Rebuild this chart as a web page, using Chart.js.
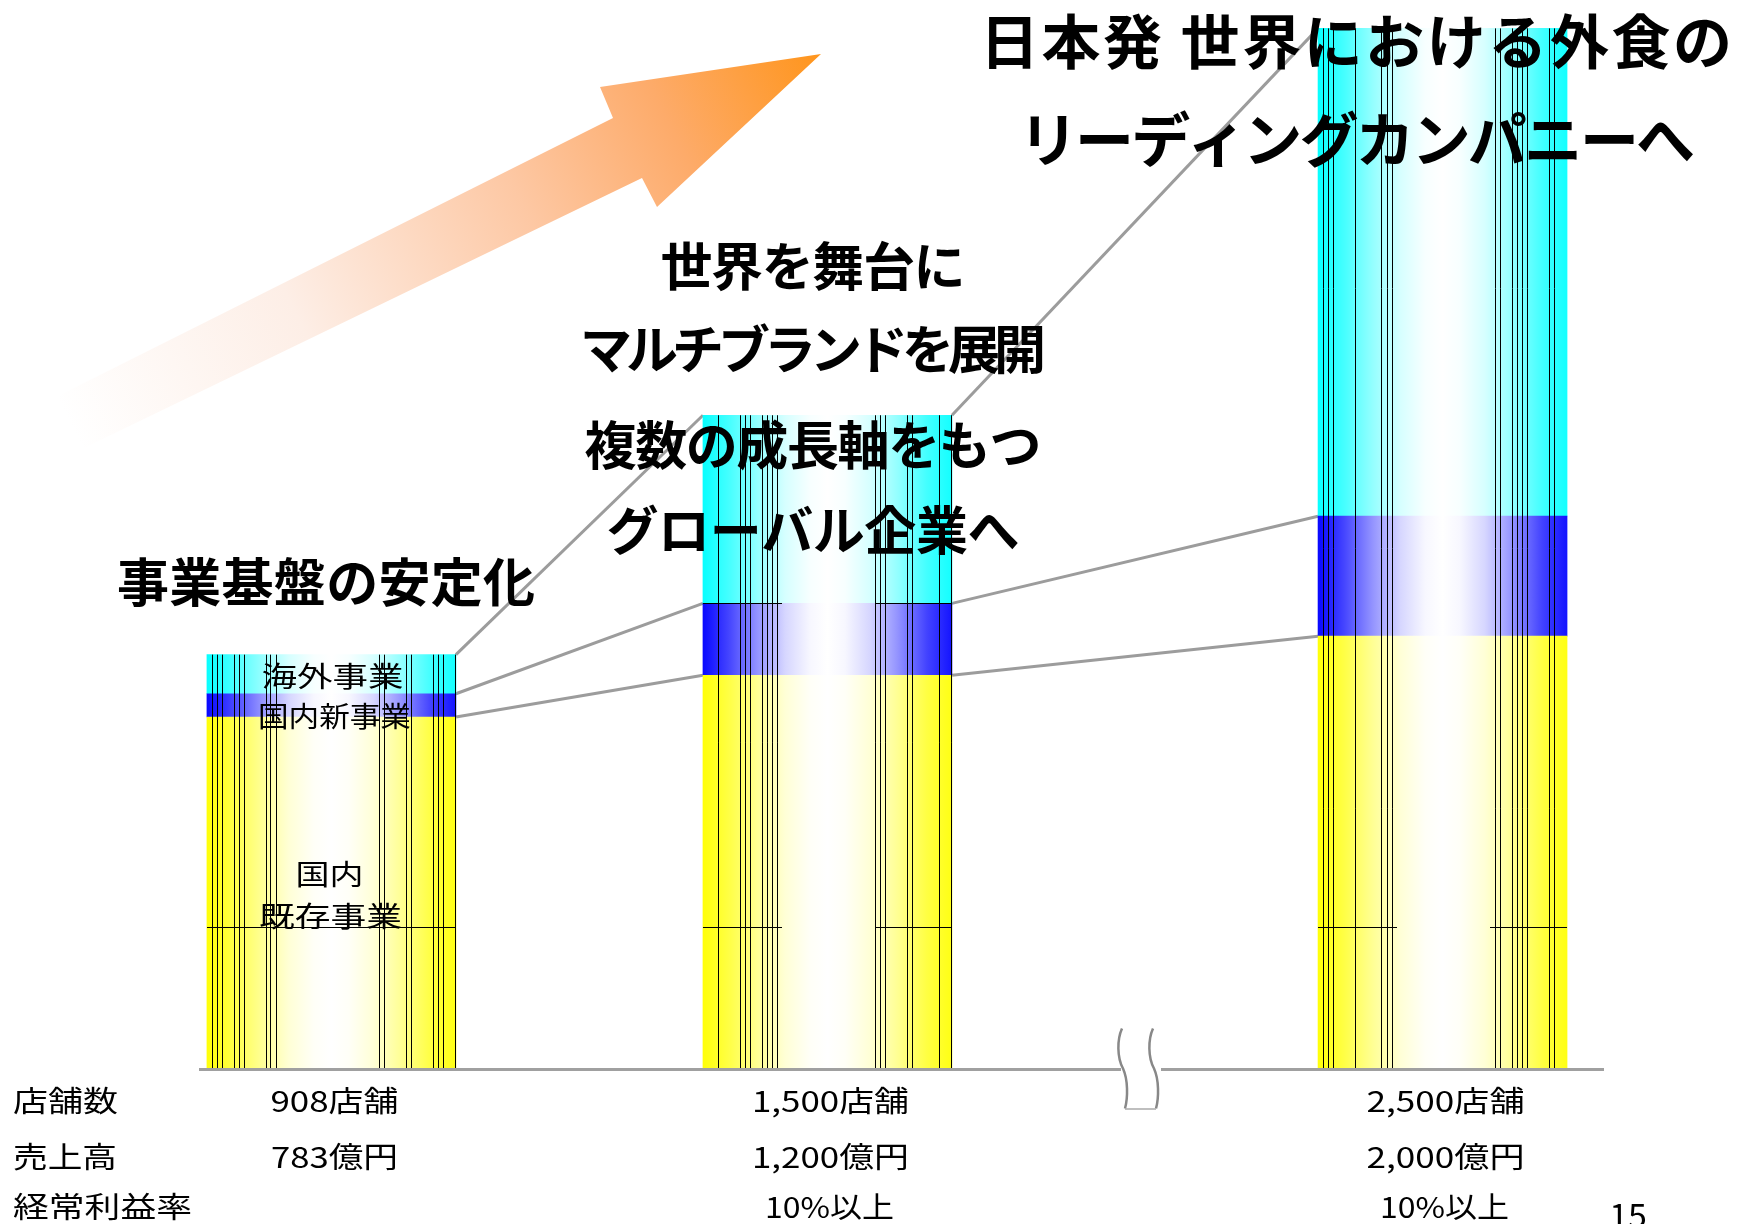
<!DOCTYPE html>
<html><head><meta charset="utf-8">
<script src="https://cdn.jsdelivr.net/npm/chart.js@4.4.1/dist/chart.umd.min.js"></script>
<style>html,body{margin:0;padding:0;background:#fff;overflow:hidden}canvas{display:block}</style>
</head><body>
<canvas id="c" width="1744" height="1224"></canvas>
<script>
// ---------- data ----------
const stageValues = [1, 2, 3.24];          // stage axis (broken between stage 2 and 3)
const seriesNames = ['国内既存事業', '国内新事業', '海外事業'];
const existingValues = [666, 745, 819];
const newDomesticValues = [44, 136, 227];
const overseasValues = [74, 356, 923];
const rowHeaders = ['店舗数', '売上高', '経常利益率'];
const storeLabels = ['908店舗', '1,500店舗', '2,500店舗'];
const salesLabels = ['783億円', '1,200億円', '2,000億円'];
const marginLabels = ['', '10%以上', '10%以上'];
const titleLines = ['日本発 世界における外食の', 'リーディングカンパニーへ'];
const stage2Lines = ['世界を舞台に', 'マルチブランドを展開', '複数の成長軸をもつ', 'グローバル企業へ'];
const stage1Line = '事業基盤の安定化';
const segmentLabels = ['海外事業', '国内新事業', '国内', '既存事業'];
const pageNumber = '15';

// ---------- styles ----------
const FONT = '"Noto Sans CJK JP", "Noto Sans", sans-serif';
const BAR_W = 249;
const colors = [[255, 255, 0], [0, 0, 255], [0, 255, 255]];
const fadeStops = [[0, 0.97], [0.1, 0.74], [0.22, 0.42], [0.33, 0.16], [0.43, 0.03], [0.5, 0], [0.57, 0.03], [0.67, 0.16], [0.78, 0.42], [0.9, 0.74], [1, 0.92]];
const hatchOffsets = [
  [5, 10, 15, 26.7, 31.7, 36.7, 59.3, 63.3, 68.7, 172.3, 176.7, 199, 203.7, 225.7, 230.7, 236],
  [14.5, 36.5, 41.5, 46.5, 58.5, 63.5, 68.5, 73.5, 171.5, 176.5, 181.5, 204, 209, 235.5],
  [5, 10, 15, 36.7, 63.3, 68.7, 73.7, 176.7, 182, 193.7, 198.7, 203.7, 208.7, 230.7, 235.7]
];
const rightBorder = [true, true, false];
const hairValue = 269;

function mix(c, t) {
  return `rgb(${Math.round(255 - (255 - c[0]) * t)},${Math.round(255 - (255 - c[1]) * t)},${Math.round(255 - (255 - c[2]) * t)})`;
}
function barFill(ci) {
  return (ctx) => {
    const ch = ctx.chart;
    if (!ch.chartArea || ctx.type !== 'data' || !ch.scales.x) return mix(colors[ci], 0.6);
    const cx = ch.scales.x.getPixelForValue(stageValues[ctx.dataIndex]);
    const g = ch.ctx.createLinearGradient(cx - BAR_W / 2, 0, cx + BAR_W / 2, 0);
    fadeStops.forEach(([p, t]) => g.addColorStop(p, mix(colors[ci], t)));
    return g;
  };
}

// letter-spaced text (big headings)
function fitText(ctx, s, cx, cy, size, weight, width, align) {
  ctx.save();
  ctx.font = `${weight} ${size}px ${FONT}`;
  ctx.letterSpacing = '0px';
  const n = Array.from(s).length;
  const w = ctx.measureText(s).width;
  const ls = (n > 1 && width) ? (width - w) / (n - 1) : 0;
  ctx.letterSpacing = ls + 'px';
  ctx.textBaseline = 'middle';
  ctx.textAlign = 'left';
  ctx.fillStyle = '#000';
  const tw = width || w;
  ctx.fillText(s, align === 'left' ? cx : cx - tw / 2, cy);
  ctx.restore();
}
// horizontally stretched text (small labels)
function wideText(ctx, s, cx, cy, size, width, align) {
  ctx.save();
  ctx.font = `normal ${size}px ${FONT}`;
  const w = ctx.measureText(s).width;
  const sx = width / w;
  ctx.textBaseline = 'middle';
  ctx.textAlign = 'left';
  ctx.fillStyle = '#000';
  ctx.translate(align === 'left' ? cx : cx - width / 2, cy);
  ctx.scale(sx, 1);
  ctx.fillText(s, 0, 0);
  ctx.restore();
}

function bars(chart) {
  const m = [0, 1, 2].map(d => chart.getDatasetMeta(d).data);
  return stageValues.map((_, i) => {
    const e0 = m[0][i], e1 = m[1][i], e2 = m[2][i];
    return { x: e0.x, left: e0.x - e0.width / 2, right: e0.x + e0.width / 2,
      base: e0.base, yTop: e0.y, bTop: e1.y, cTop: e2.y };
  });
}

const deco = {
  id: 'deco',
  beforeDatasetsDraw(chart) {
    const ctx = chart.ctx;
    // big gradient arrow
    ctx.save();
    const pts = [[821, 54], [600, 87], [613, 118], [50, 400], [84, 448], [642, 178], [657, 207]];
    const g = ctx.createLinearGradient(70, 424, 821, 54);
    g.addColorStop(0, 'rgba(255,255,255,1)');
    g.addColorStop(0.3, '#fdeee6');
    g.addColorStop(0.6, '#fdc8a4');
    g.addColorStop(0.8, '#fdab6a');
    g.addColorStop(1, '#ff951c');
    ctx.beginPath();
    pts.forEach((p, i) => i ? ctx.lineTo(p[0], p[1]) : ctx.moveTo(p[0], p[1]));
    ctx.closePath();
    ctx.fillStyle = g;
    ctx.fill();
    ctx.restore();
    // connector lines
    const b = bars(chart);
    ctx.save();
    ctx.strokeStyle = '#9c9c9c';
    ctx.lineWidth = 3;
    for (let i = 0; i < b.length - 1; i++) {
      ['cTop', 'bTop', 'yTop'].forEach(k => {
        ctx.beginPath();
        ctx.moveTo(b[i].right, b[i][k]);
        ctx.lineTo(b[i + 1].left, b[i + 1][k]);
        ctx.stroke();
      });
    }
    ctx.restore();
  },
  afterDatasetsDraw(chart) {
    const ctx = chart.ctx;
    const b = bars(chart);
    const ys = chart.scales.y;
    const hy = Math.round(ys.getPixelForValue(hairValue)) + 0.5;
    ctx.save();
    ctx.strokeStyle = '#000';
    ctx.lineWidth = 1;
    b.forEach((r, i) => {
      const L = Math.round(r.left);
      hatchOffsets[i].forEach(o => {
        const x = Math.round(L + o) + 0.5;
        ctx.beginPath(); ctx.moveTo(x, r.cTop); ctx.lineTo(x, r.base); ctx.stroke();
      });
      if (rightBorder[i]) {
        const x = Math.round(r.right) - 0.5;
        ctx.beginPath(); ctx.moveTo(x, r.cTop); ctx.lineTo(x, r.base); ctx.stroke();
      }
      const segs = i === 0 ? [[0, BAR_W]] : [[0, 79], [172, BAR_W]];
      const levels = i === 1 ? [hy, Math.round(r.bTop) + 0.5] : [hy];
      levels.forEach(y => segs.forEach(([a, c]) => {
        ctx.beginPath(); ctx.moveTo(L + a, y); ctx.lineTo(L + c, y); ctx.stroke();
      }));
    });
    ctx.restore();
    // baseline with break
    const ca = chart.chartArea;
    const bx = (b[1].right + b[2].left) / 2 + 5;
    const by = ca.bottom + 0.5;
    ctx.save();
    ctx.strokeStyle = '#a0a0a0';
    ctx.lineWidth = 3;
    ctx.beginPath();
    ctx.moveTo(ca.left, by); ctx.lineTo(bx - 19, by);
    ctx.moveTo(bx + 21, by); ctx.lineTo(ca.right, by);
    ctx.stroke();
    ctx.strokeStyle = '#888';
    ctx.lineWidth = 2.5;
    [-19, 12].forEach(dx => {
      const x = bx + dx;
      ctx.beginPath();
      ctx.moveTo(x + 1, by - 41);
      ctx.bezierCurveTo(x - 4, by - 30, x - 4, by - 12, x + 2, by - 1);
      ctx.bezierCurveTo(x + 7, by + 10, x + 7, by + 28, x + 4, by + 39);
      ctx.stroke();
    });
    ctx.lineWidth = 1.5;
    ctx.strokeStyle = '#aaa';
    ctx.beginPath();
    ctx.moveTo(bx - 15, by + 39.5); ctx.lineTo(bx + 16, by + 39.5);
    ctx.stroke();
    ctx.restore();
  },
  afterDraw(chart) {
    const ctx = chart.ctx;
    const b = bars(chart);
    // headline texts
    fitText(ctx, titleLines[0], 1356, 42, 59, 'bold', 752);
    fitText(ctx, titleLines[1], 1357, 140, 59, 'bold', 676);
    const s2 = [[266, 305], [349, 466], [445, 457], [530, 413]];
    stage2Lines.forEach((t, i) => fitText(ctx, t, 813, s2[i][0], 52, 'bold', s2[i][1]));
    fitText(ctx, stage1Line, 326, 582, 52, 'bold', 418);
    // segment labels inside first bar
    const r = b[0];
    const ymid = (r.base + r.yTop) / 2;
    wideText(ctx, segmentLabels[0], r.x + 1, (r.cTop + r.bTop) / 2 + 2, 28, 142);
    wideText(ctx, segmentLabels[1], r.x + 3, r.yTop - 1, 28, 153);
    wideText(ctx, segmentLabels[2], r.x - 2, ymid - 19, 28, 68);
    wideText(ctx, segmentLabels[3], r.x - 1, ymid + 23, 28, 143);
    // bottom table
    const rowY = [1101, 1157, 1207];
    const headW = [105, 104, 179];
    rowHeaders.forEach((t, i) => wideText(ctx, t, 13, rowY[i], 29, headW[i], 'left'));
    const wStore = [128, 157, 158], wSales = [127, 157, 158], wMargin = [0, 129, 129];
    b.forEach((r2, i) => {
      wideText(ctx, storeLabels[i], r2.x + 3, rowY[0], 29, wStore[i]);
      wideText(ctx, salesLabels[i], r2.x + 3, rowY[1], 29, wSales[i]);
      if (marginLabels[i]) wideText(ctx, marginLabels[i], r2.x + 2, rowY[2], 29, wMargin[i]);
    });
    ctx.save();
    ctx.font = `normal 34px ${FONT}`;
    ctx.fillStyle = '#000';
    ctx.textAlign = 'center';
    ctx.textBaseline = 'alphabetic';
    ctx.fillText(pageNumber, 1628, 1228);
    ctx.restore();
  }
};

const seriesValues = [existingValues, newDomesticValues, overseasValues];
new Chart(document.getElementById('c'), {
  type: 'bar',
  data: {
    datasets: seriesValues.map((vals, d) => ({
      label: seriesNames[d],
      data: vals.map((v, i) => ({ x: stageValues[i], y: v })),
      backgroundColor: barFill(d),
      borderWidth: 0,
      barThickness: BAR_W
    }))
  },
  options: {
    responsive: false,
    animation: false,
    devicePixelRatio: 1,
    layout: { padding: { left: 199, right: 140, top: 12, bottom: 155 } },
    plugins: { legend: { display: false }, tooltip: { enabled: false } },
    scales: {
      x: { type: 'linear', min: 0.733, max: 3.5655, offset: false, stacked: true, display: false },
      y: { min: 0, max: 2000, stacked: true, display: false }
    }
  },
  plugins: [deco]
});
</script>
</body></html>
